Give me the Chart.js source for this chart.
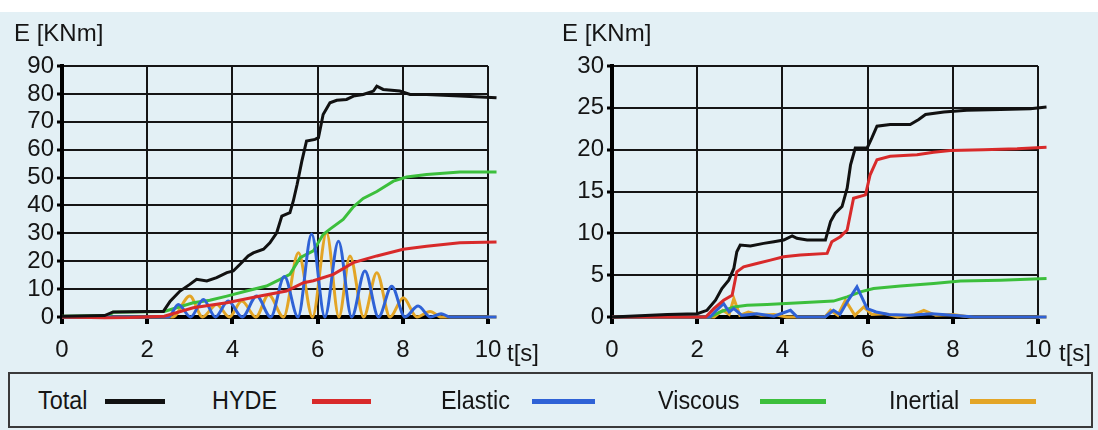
<!DOCTYPE html>
<html>
<head>
<meta charset="utf-8">
<script src="https://cdn.jsdelivr.net/npm/chart.js@4"></script>
<style>
  html, body { margin: 0; padding: 0; }
  body { width: 1098px; height: 430px; background: #e3f0f5; position: relative; overflow: hidden;
         font-family: "Liberation Sans", Arial, sans-serif; color: #151515; }
  #topband { position: absolute; left: 0; top: 0; width: 1098px; height: 12px; background: #fff; }
  canvas { position: absolute; top: 0; }
  .lbl { position: absolute; font-size: 24px; line-height: 26px; white-space: nowrap; }
  #legend { position: absolute; left: 8px; top: 372px; width: 1081px; height: 52px;
            border: 2px solid #3a3a3a; }
  .ltxt { position: absolute; top: 12px; font-size: 26px; line-height: 28px; transform: scaleX(0.9);
          transform-origin: left center; white-space: nowrap; }
  .lline { position: absolute; top: 25px; height: 5px; }
</style>
</head>
<body>
<div id="topband"></div>
<canvas id="left" width="550" height="370" style="left:0"></canvas>
<canvas id="right" width="550" height="370" style="left:550px"></canvas>
<span class="lbl" style="left:14px;top:20px">E [KNm]</span>
<span class="lbl" style="left:507px;top:340px">t[s]</span>
<span class="lbl" style="left:562px;top:20px">E [KNm]</span>
<span class="lbl" style="left:1059px;top:340px">t[s]</span>
<div id="legend"></div>

<script>
// --- left panel, [t (s), E (KNm)] ---
const leftTotal = [[0,0.3],[1.0,0.5],[1.2,1.8],[2.0,2.0],[2.38,2.0],[2.54,5.7],[2.77,9.3],[3.0,11.7],[3.16,13.5],[3.4,12.9],
  [3.63,14.1],[3.87,15.9],[4.02,16.5],[4.18,18.9],[4.37,21.9],[4.49,23],[4.73,24.3],[4.88,26.6],[5.04,30.2],[5.16,36.2],
  [5.35,37.4],[5.43,41.6],[5.52,47.6],[5.63,55.9],[5.74,63.1],[5.94,63.7],[6.02,64.3],[6.13,72.6],[6.29,76.8],[6.45,77.7],
  [6.68,78],[6.84,79.2],[7.07,79.8],[7.31,81],[7.39,82.8],[7.54,81.6],[7.93,81],[8.17,79.8],[8.56,79.8],[9.34,79.2],[10.2,78.6]];
const leftHyde = [[0,0],[1.0,-0.3],[1.6,-0.2],[2.4,0.3],[3.08,3.3],[3.87,5.1],[4.65,7.5],[5.27,9.3],[5.67,12.3],[5.9,13],
  [6.37,15.3],[6.84,19.5],[7.39,21.9],[8.01,24.3],[8.56,25.4],[9.34,26.6],[10.2,26.9]];
const leftElastic = [[0,0],[2.5,0],[2.73,4.5],[3.02,0],[3.32,6.3],[3.6,0],[3.9,5.7],[4.23,0],[4.57,7.5],[4.9,0],[5.22,14.5],
  [5.54,0],[5.86,29.8],[6.17,0],[6.49,27.2],[6.8,0],[7.11,16.5],[7.43,0],[7.74,11],[8.05,0],[8.36,3.9],[8.65,0],[8.9,1.2],
  [9.1,0],[10.2,0]];
const leftViscous = [[0,0.3],[1.1,0.5],[1.2,1.7],[2.4,2.0],[2.69,3.3],[3.08,5.1],[3.47,6],[3.87,7.5],[4.33,9.3],[4.8,11.1],
  [5.12,13.5],[5.35,15.3],[5.59,21.3],[5.9,23.7],[6.13,29.6],[6.29,31.5],[6.6,35],[6.84,39.5],[7.07,42.5],[7.39,45],
  [7.78,48.7],[8.09,50.2],[8.56,51.1],[9.34,52],[10.2,52]];
const leftInertial = [[0,0],[2.6,0],[3.0,7.5],[3.3,0],[3.63,4.5],[3.93,0],[4.22,5.7],[4.55,0],[4.85,8],[5.2,0],[5.55,23],
  [5.88,0],[6.21,30.2],[6.5,0],[6.76,21.9],[7.08,0],[7.39,15.9],[7.7,0],[8.01,6.9],[8.33,0],[8.64,2],[8.9,0],[10.2,0]];

// --- right panel ---
const rightTotal = [[0,0],[1.3,0.3],[2.0,0.4],[2.23,0.8],[2.43,2],[2.58,3.4],[2.74,4.4],[2.86,5.8],[2.93,7.8],[3.01,8.6],
  [3.25,8.5],[3.56,8.8],[3.8,9],[4.03,9.2],[4.23,9.7],[4.34,9.4],[4.58,9.2],[5.01,9.2],[5.13,11.4],[5.24,12.4],[5.4,13.2],
  [5.52,15.4],[5.6,18.2],[5.71,20.2],[5.99,20.2],[6.1,21.4],[6.22,22.8],[6.53,23],[7.0,23],[7.2,23.6],[7.36,24.2],
  [7.79,24.5],[8.33,24.7],[9.12,24.8],[9.82,24.9],[10.2,25.1]];
const rightHyde = [[0,0],[2.2,0],[2.39,1],[2.62,2],[2.82,2.6],[2.93,5.4],[3.09,6],[3.4,6.4],[3.72,6.8],[4.03,7.2],[4.42,7.4],
  [5.05,7.6],[5.16,9],[5.36,9.6],[5.52,10.4],[5.67,14.2],[5.95,14.6],[6.06,17],[6.22,18.8],[6.53,19.2],[7.16,19.4],
  [7.55,19.7],[7.94,19.9],[8.72,20],[9.51,20.1],[10.2,20.3]];
const rightElastic = [[0,0],[2.3,0],[2.45,0.8],[2.62,1.6],[2.75,0.6],[2.86,1.0],[3.05,0.2],[3.4,0.4],[3.8,0.1],[4.19,0.8],
  [4.35,0],[5.0,0],[5.2,0.8],[5.35,0.3],[5.52,1.8],[5.75,3.6],[5.99,1],[6.2,0.6],[6.5,0.3],[7.0,0.2],[7.5,0.4],[8.0,0.2],
  [8.5,0],[10.2,0]];
const rightViscous = [[0,0],[2.3,0],[2.54,0.6],[2.86,1.2],[3.17,1.4],[3.64,1.5],[4.42,1.7],[5.2,1.9],[5.52,2.4],[5.83,3],
  [6.14,3.4],[6.77,3.7],[7.55,4],[8.18,4.3],[9.12,4.4],[10.2,4.6]];
const rightInertial = [[0,0],[2.4,0],[2.6,0.8],[2.75,0.3],[2.86,2.2],[3.0,0.2],[3.2,0.6],[3.5,0.2],[3.8,0.3],[4.1,0],[5.0,0],
  [5.13,0.8],[5.3,0.2],[5.48,2.0],[5.7,0.2],[5.91,1.2],[6.1,0.3],[6.4,0.4],[6.7,0],[7.1,0.3],[7.32,0.8],[7.6,0.2],[8.0,0.3],
  [8.4,0],[10.2,0]];

const seriesNames = ["Total", "HYDE", "Elastic", "Viscous", "Inertial"];
const seriesColors = ["#111111", "#d82a2a", "#2f62d6", "#3cbf3c", "#e3a526"];
const xTicks = [0, 2, 4, 6, 8, 10];

function toPoints(arr) {
  return arr.map(p => ({ x: p[0], y: p[1] }));
}

function makeChart(id, sets, yMax, yStep, smoothOsc) {
  const datasets = sets.map((s, i) => ({
    label: seriesNames[i],
    data: toPoints(s),
    borderColor: seriesColors[i],
    borderWidth: 3,
    pointRadius: 0,
    tension: 0,
    cubicInterpolationMode: (smoothOsc && (i === 2 || i === 4)) ? "monotone" : "default",
    clip: 14
  }));
  if (smoothOsc) {
    datasets[2].tension = 0.4;
    datasets[4].tension = 0.4;
  }
  const tickFont = { family: "Liberation Sans", size: 24 };
  return new Chart(document.getElementById(id), {
    type: "line",
    data: { datasets },
    options: {
      responsive: false,
      devicePixelRatio: 1,
      animation: false,
      layout: { padding: { left: 0, top: 66, right: 62, bottom: 0 } },
      plugins: { legend: { display: false }, tooltip: { enabled: false } },
      scales: {
        x: {
          type: "linear", min: 0, max: 10,
          afterBuildTicks: (axis) => { axis.ticks = xTicks.map(v => ({ value: v })); },
          afterFit: (axis) => { axis.height = 53; },
          ticks: { font: tickFont, color: "#151515", padding: 12, maxRotation: 0, autoSkip: false },
          grid: { color: "#151515", lineWidth: 2, tickLength: 7, tickWidth: 4, tickColor: "#000" },
          border: { color: "#000", width: 4 }
        },
        y: {
          min: 0, max: yMax,
          ticks: { stepSize: yStep, font: tickFont, color: "#151515", padding: 3, autoSkip: false },
          afterFit: (axis) => { axis.width = 62; },
          grid: { color: "#151515", lineWidth: 2, tickLength: 5, tickWidth: 3, tickColor: "#000" },
          border: { color: "#000", width: 4 }
        }
      }
    }
  });
}

makeChart("left", [leftTotal, leftHyde, leftElastic, leftViscous, leftInertial], 90, 10, true);
makeChart("right", [rightTotal, rightHyde, rightElastic, rightViscous, rightInertial], 30, 5, false);

// legend: text left, line start, line end (page x)
const legendPos = [[38, 105, 165], [212, 312, 371], [441, 532, 595], [658, 760, 826], [889, 970, 1036]];
const legend = document.getElementById("legend");
seriesNames.forEach((name, i) => {
  const t = document.createElement("span");
  t.className = "ltxt";
  t.style.left = (legendPos[i][0] - 10) + "px";
  t.textContent = name;
  legend.appendChild(t);
  const l = document.createElement("div");
  l.className = "lline";
  l.style.left = (legendPos[i][1] - 10) + "px";
  l.style.width = (legendPos[i][2] - legendPos[i][1]) + "px";
  l.style.background = seriesColors[i];
  legend.appendChild(l);
});
</script>
</body>
</html>
